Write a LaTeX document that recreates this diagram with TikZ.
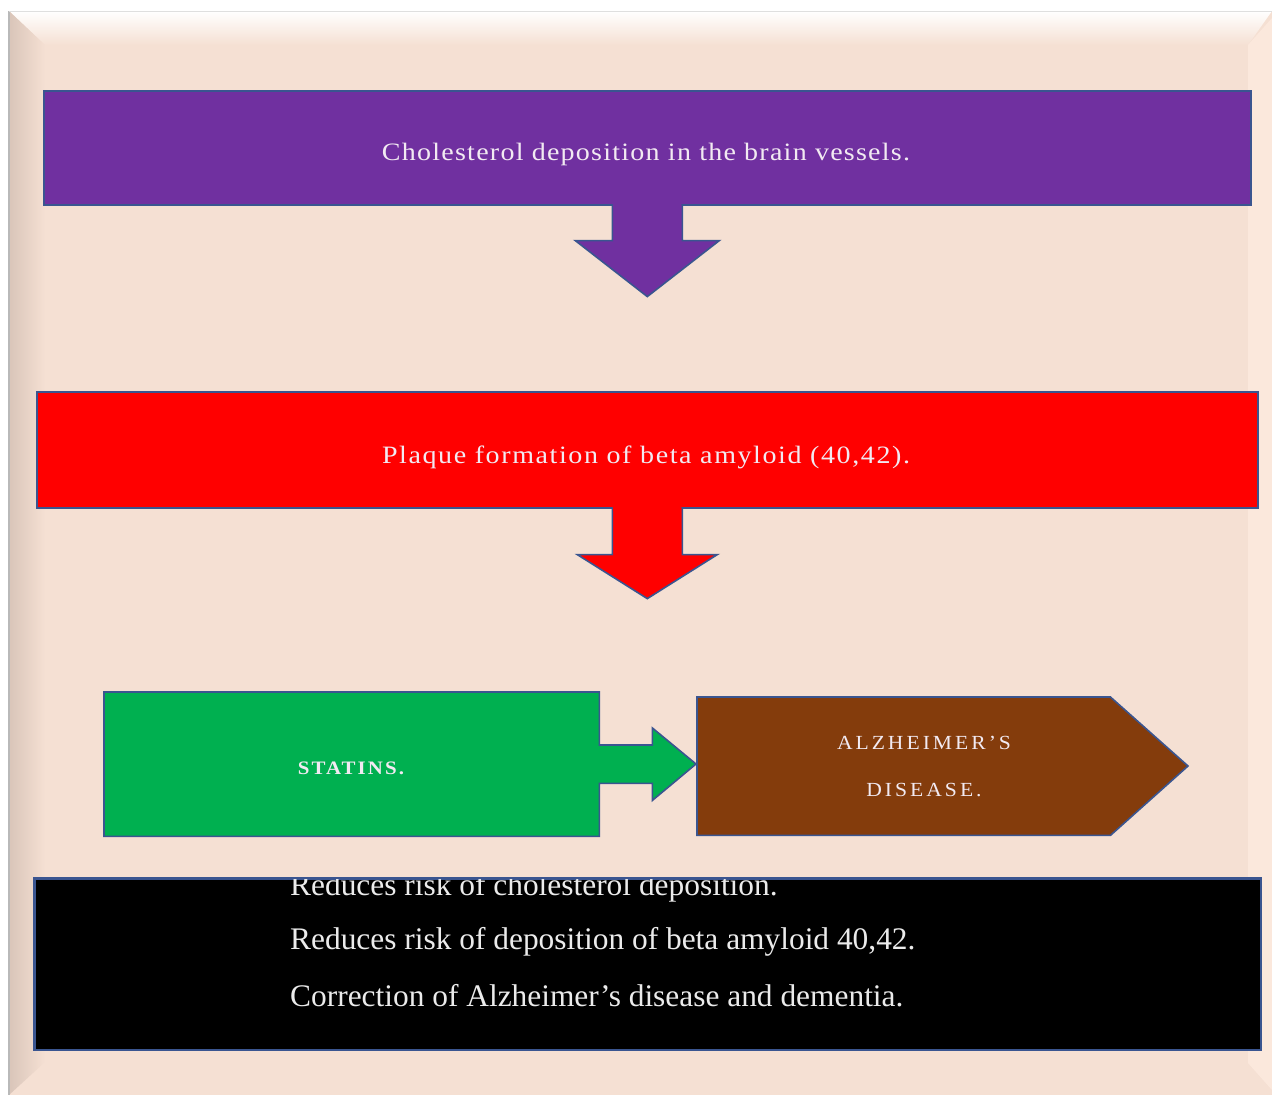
\documentclass[tikz,border=0pt]{standalone}
\usepackage{fontspec}
\setmainfont{Liberation Serif}
\newfontfamily\widefontA[FakeStretch=1.12,LetterSpace=5]{Liberation Serif}
\newfontfamily\widefontB[FakeStretch=1.12,LetterSpace=6.4]{Liberation Serif}
\newfontfamily\statfont[FakeStretch=1.1,LetterSpace=11]{Liberation Serif}
\newfontfamily\capsfont[FakeStretch=1.08,LetterSpace=15]{Liberation Serif}
\usetikzlibrary{calc}
\definecolor{bg}{HTML}{F5E0D3}
\definecolor{bgdark}{HTML}{D9C5B9}
\definecolor{bglight}{HTML}{FBE8DC}
\definecolor{edge}{HTML}{3A5590}
\definecolor{cpurple}{HTML}{7030A0}
\definecolor{cred}{HTML}{FF0000}
\definecolor{cgreen}{HTML}{00B050}
\definecolor{cbrown}{HTML}{843C0C}
\definecolor{txtlight}{HTML}{F2EAF2}
\begin{document}
\begin{tikzpicture}[x=1pt,y=-1pt,
  box/.style={draw=edge, line width=1.6pt, anchor=north west, inner sep=0pt},
  blockarrow/.style={draw=edge, line width=1.6pt, line join=miter},
  boxtext/.style={text=txtlight, anchor=base, inner sep=0pt},
  listtext/.style={text=white!92!black, font=\fontsize{31.4}{36}\selectfont, anchor=west, inner sep=0pt}]
\useasboundingbox (0,0) rectangle (1272,1095);
\fill[white] (0,0) rectangle (1272,1095);
% frame with bevel
\fill[bg] (9,11) rectangle (1272,1095);
\shade[top color=white, bottom color=bg] (9,11) -- (1272,11) -- (1248,45) -- (45,45) -- cycle;
\shade[left color=bgdark, right color=bg] (9,11) -- (45,45) -- (45,1062) -- (9,1095) -- cycle;
\fill[bglight] (1272,18) -- (1248,45) -- (1248,1063) -- (1272,1090) -- cycle;
\draw[gray!55, line width=1.5pt] (9,11) -- (9,1095);
\draw[gray!25, line width=0.8pt] (9,11) -- (1272,11);
% purple box and arrow
\node[box, fill=cpurple, minimum width=1207pt, minimum height=114pt] (chol) at (43,90) {};
\node[boxtext, font=\widefontA\fontsize{25}{29}\selectfont] at (646,160) {Cholesterol deposition in the brain vessels.};
\filldraw[blockarrow, fill=cpurple] ($(chol.south)+(-35,-1)$) -- ($(chol.south)+(-35,35)$) -- ($(chol.south)+(-72,35)$)
  -- ($(chol.south)+(0,91)$) -- ($(chol.south)+(72,35)$) -- ($(chol.south)+(35,35)$) -- ($(chol.south)+(35,-1)$);
\fill[cpurple] ($(chol.south)+(-34,-2)$) rectangle ($(chol.south)+(34,2)$);
% red box and arrow
\node[box, fill=cred, minimum width=1221pt, minimum height=116pt] (plaque) at (36,391) {};
\node[boxtext, font=\widefontB\fontsize{25}{29}\selectfont] at (646,463) {Plaque formation of beta amyloid (40,42).};
\filldraw[blockarrow, fill=cred] ($(plaque.south)+(-35,-1)$) -- ($(plaque.south)+(-35,46)$) -- ($(plaque.south)+(-70,46)$)
  -- ($(plaque.south)+(0,90)$) -- ($(plaque.south)+(70,46)$) -- ($(plaque.south)+(35,46)$) -- ($(plaque.south)+(35,-1)$);
\fill[cred] ($(plaque.south)+(-34,-2)$) rectangle ($(plaque.south)+(34,2)$);
% statins with block arrow
\node[anchor=north west, minimum width=495pt, minimum height=144pt, inner sep=0pt] (statins) at (104,692) {};
\coordinate (tip) at (696,764);
\filldraw[blockarrow, fill=cgreen] (statins.north west) -- (statins.north east) -- ($(statins.north east)+(0,53)$)
  -- ($(statins.north east)+(53,53)$) -- ($(statins.north east)+(53,36)$) -- (tip)
  -- ($(statins.south east)+(53,-36)$) -- ($(statins.south east)+(53,-53)$) -- ($(statins.south east)+(0,-53)$)
  -- (statins.south east) -- (statins.south west) -- cycle;
\node[text=txtlight, font=\statfont\bfseries\fontsize{19}{22}\selectfont] at (351,768) {STATINS.};
% alzheimer pentagon
\node[anchor=north west, minimum width=413pt, minimum height=138pt, inner sep=0pt] (ad) at (697,697) {};
\filldraw[blockarrow, fill=cbrown] (ad.north west) -- (ad.north east) -- (1188,766) -- (ad.south east) -- (ad.south west) -- cycle;
\node[text=txtlight, font=\capsfont\fontsize{20}{24}\selectfont] at (924,743) {ALZHEIMER’S};
\node[text=txtlight, font=\capsfont\fontsize{20}{24}\selectfont] at (924,790) {DISEASE.};
% black box
\node[box, fill=black, minimum width=1226pt, minimum height=171pt] (res) at (34,878) {};
\begin{scope}
\clip (res.north west) rectangle (res.south east);
\node[listtext] at (290,888) {Reduces risk of cholesterol deposition.};
\end{scope}
\node[listtext] at (290,942) {Reduces risk of deposition of beta amyloid 40,42.};
\node[listtext] at (290,996) {Correction of Alzheimer’s disease and dementia.};
\draw[edge, line width=1.6pt] (res.north west) rectangle (res.south east);
\end{tikzpicture}
\end{document}
